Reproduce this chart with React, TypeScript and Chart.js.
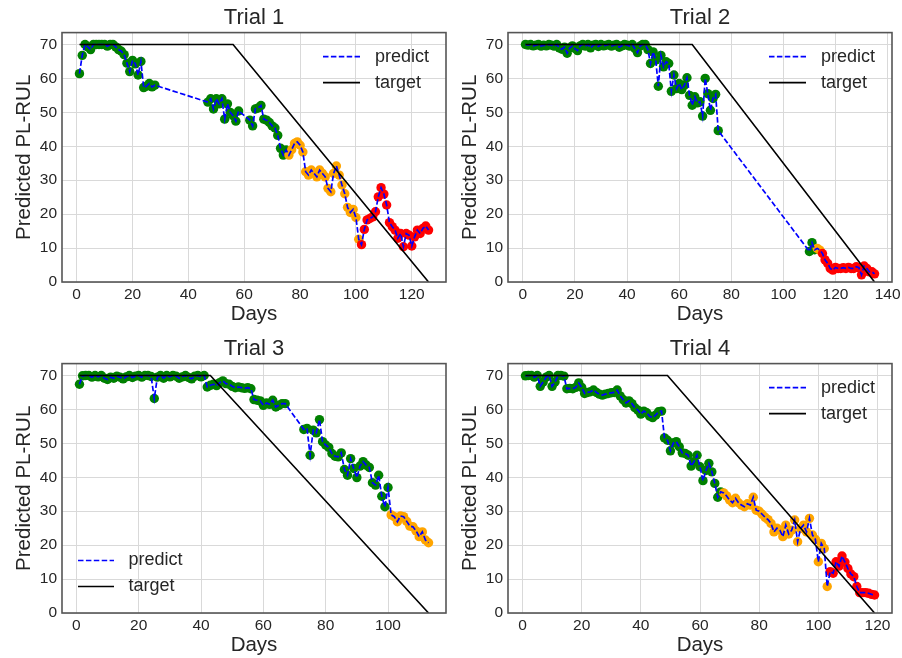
import React, { useEffect, useRef } from 'react';
import { Chart, registerables } from 'chart.js';

Chart.register(...registerables);

const FONT = '"Liberation Sans", Arial, Helvetica, sans-serif';
const TEXT = '#262626';
const GREEN = '#008000';
const ORANGE = '#FFA500';
const RED = '#FF0000';

// ---------- shared ticks ----------
const yTicks = [0, 10, 20, 30, 40, 50, 60, 70];
const xTicks120 = [0, 20, 40, 60, 80, 100, 120];
const xTicks140 = [0, 20, 40, 60, 80, 100, 120, 140];
const xTicks100 = [0, 20, 40, 60, 80, 100];
const legendLabels = ['predict', 'target'];

// ---------- Trial 1 ----------
const trial1Days = [
  1, 2, 3, 4, 5, 6, 7, 8, 9, 10, 11, 12, 13, 14, 15, 16, 17, 18, 19, 20, 21, 22, 23, 24, 25, 26, 27, 28,
  47, 48, 49, 50, 51, 52, 53, 54, 55, 56, 57, 58,
  62, 63, 64, 65, 66, 67, 68, 69, 70, 71, 72, 73, 74, 75, 76, 77, 78, 79, 80, 81, 82, 83, 84, 85, 86, 87, 88, 89, 90, 91,
  92, 93, 94, 95, 96, 97, 98, 99, 100, 101, 102, 103, 104, 105, 106, 107, 108, 109, 110, 111, 112, 113, 114, 115, 116,
  117, 118, 119, 120, 121, 122, 123, 124, 125, 126,
];
const trial1Pred = [
  61.4, 66.8, 70, 69.3, 68.5, 70, 70, 70, 70, 70, 69.5, 70, 70, 69.3, 68.5, 68, 67, 64.5, 62, 65.3, 64.3, 61, 65, 57.3, 57.7, 58.5, 57.5, 58,
  53, 54, 51, 54, 52.5, 54, 48, 52.5, 50, 49, 47.4, 50.4,
  47.7, 46, 51, 51.3, 52, 48, 47.7, 47, 46, 45.4,
  43.2, 39.4, 37.4, 38.9, 37.4, 39, 40.8, 41.3, 40.3, 38.3,
  32.5, 31.5, 33, 32, 31, 33, 32, 31, 27.6, 26.6,
  32, 34.2, 31.5, 28.6, 26, 22, 20.5, 21.4, 19, 12.6,
  11, 15.5, 18.3, 18.7, 19.2, 20.7, 25.1, 27.8, 25.9, 22.7, 17.5, 16.3, 15.3, 12.9, 14.3, 10.4, 14.3, 13.8, 10.6, 13.3,
  15.3, 14.3, 15.8, 16.5, 15.3,
];
const trial1TargetDays = [1, 56, 126];
const trial1TargetValues = [70, 70, 0];

// ---------- Trial 2 ----------
const trial2Days = [
  1, 2, 3, 4, 5, 6, 7, 8, 9, 10, 11, 12, 13, 14, 15, 16, 17, 18, 19, 20, 21, 22, 23, 24, 25, 26, 27, 28, 29, 30,
  31, 32, 33, 34, 35, 36, 37, 38, 39, 40, 41, 42, 43, 44, 45, 46, 47, 48, 49, 50, 51, 52, 53, 54, 55, 56, 57, 58, 59, 60,
  61, 62, 63, 64, 65, 66, 67, 68, 69, 70, 71, 72, 73, 74, 75,
  110, 111, 112, 113, 114, 115, 116, 117, 118, 119, 120, 121, 122, 123, 124, 125, 126, 127, 128, 129, 130, 131, 132, 133,
  134, 135,
];
const trial2Pred = [
  70, 69.8, 70, 69.6, 69.8, 70, 69.5, 69.8, 69.6, 70,
  69.8, 69.5, 70, 69, 68.6, 69.2, 67.4, 69, 69.6, 68.8,
  68.2, 69.6, 70, 69.5, 70, 69, 69.8, 70, 69.4, 70,
  69.6, 69.8, 70, 69.5, 69.8, 70, 69.2, 69.6, 70, 69.8,
  69.5, 70, 68.8, 67.6, 69.5, 70, 70,
  68.5, 64.4, 67.8, 65.4, 57.7, 66.8, 63.4, 64.9, 64.4, 56.2, 61, 57, 58.5, 56.7, 58, 60.2, 55, 52.1, 54.6, 52.8, 53.1,
  48.9, 60, 55.5, 50.6, 54.1, 55.3, 44.6,
  9, 11.6, 9.5, 9.9, 9.4, 8.4, 6.5, 5.5, 4.0, 3.5, 4.3, 4.0, 4.0, 4.2, 4.0, 4.3, 4.0, 4.0, 4.5, 4.2, 2.1, 4.7, 4.0, 3.0,
  3.0, 2.4,
];
const trial2TargetDays = [1, 65, 135];
const trial2TargetValues = [70, 70, 0];

// ---------- Trial 3 ----------
const trial3Days = [
  1, 2, 3, 4, 5, 6, 7, 8, 9, 10, 11, 12, 13, 14, 15, 16, 17, 18, 19, 20, 21, 22, 23, 24, 25, 26, 27, 28, 29, 30,
  31, 32, 33, 34, 35, 36, 37, 38, 39, 40, 41, 42, 43, 44, 45, 46, 47, 48, 49, 50, 51, 52, 53, 54, 55, 56, 57, 58, 59, 60,
  61, 62, 63, 64, 65, 66, 67,
  73, 74, 75, 76, 77, 78, 79, 80, 81, 82, 83, 84, 85, 86, 87, 88, 89, 90, 91, 92, 93, 94, 95, 96, 97, 98, 99, 100,
  101, 102, 103, 104, 105, 106, 107, 108, 109, 110, 111, 112, 113,
];
const trial3Pred = [
  67.4, 69.9, 70, 70, 69.5, 70, 69.6, 70, 69.2, 68.8,
  69.5, 69.2, 69.8, 69.5, 69, 69.6, 70, 69.4, 69.8, 70,
  69.5, 70, 70, 69.7, 63.2, 69.5, 70, 69.2, 70, 69.6,
  70, 69.8, 69.2, 69.6, 70, 69.4, 69, 69.8, 70, 69.6, 70,
  66.6, 67.1, 67.4, 67, 67.9, 68.4, 67.6, 67.4, 66.8, 66.4, 66.6, 66.4, 66.2, 66.4, 66.1, 62.9, 62.7, 62.5, 61.2, 61.9,
  61.5, 62.7, 60.7, 61.2, 61.7, 61.7,
  54.1, 54.4, 46.5, 53.9, 53.1, 57, 50.5, 49.5, 48.8, 47, 46.2, 46, 47.2, 42.3, 40.6, 45.5, 42.6, 39.9, 43.3, 44.6,
  43.6, 42.9, 38.4, 37.7, 40.6, 34.4, 31.3, 37,
  28.9, 28.4, 26.9, 28.6, 28.4, 27, 25.6, 25.4, 24.2, 22.5, 23.9, 21.5, 20.7,
];
const trial3TargetDays = [1, 43, 113];
const trial3TargetValues = [70, 70, 0];

// ---------- Trial 4 ----------
const trial4Days = [
  1, 2, 3, 4, 5, 6, 7, 8, 9, 10, 11, 12, 13, 14, 15, 16, 17, 18, 19, 20, 21, 22, 23, 24, 25, 26, 27, 28, 29, 30,
  31, 32, 33, 34, 35, 36, 37, 38, 39, 40, 41, 42, 43, 44, 45, 46, 47, 48, 49, 50, 51, 52, 53, 54, 55, 56, 57, 58, 59, 60,
  61, 62, 63, 64, 65, 66, 67, 68, 69, 70, 71, 72, 73, 74, 75, 76, 77, 78, 79, 80, 81, 82, 83, 84, 85, 86, 87, 88, 89, 90,
  91, 92, 93, 94, 95, 96, 97, 98, 99, 100, 101, 102, 103, 104, 105, 106, 107, 108, 109, 110, 111, 112, 113, 114, 115,
  116, 117, 118, 119,
];
const trial4Pred = [
  69.9, 70, 70, 69.5, 70, 66.8, 68.1, 69.5, 70, 66.8,
  68.1, 70, 70, 69.8, 66.1, 66.2, 66.1, 66.5, 67.8, 66.5,
  64.7, 65, 65.2, 65.7, 65, 64.5, 64.2, 64.5, 64.7, 64.9,
  65, 65.7, 64, 62.9, 61.9, 62.5, 61.7, 60.5, 59.8, 58.6,
  59.5, 59, 58, 57.6, 58.3, 59.3, 59.5, 51.6, 50.9, 47.8,
  50.1, 50.5, 49, 47.2, 47, 46.5, 43.3, 44.6, 46.5, 43.1,
  39, 42, 44.1, 41.6, 38.2, 34.1, 35.7, 35.4, 34.5, 33.3,
  32.5, 33.8, 32.5, 31.8, 31.3, 32.2, 31.8, 34.1, 30.3, 30,
  29.1, 28.2, 27.5, 26.4, 23.9, 25, 24.4, 22.5, 25.9, 23.3,
  24.4, 27.4, 21, 24.9, 25.9, 23.9, 27.9, 23, 21.7, 15.1,
  20.5, 19, 7.8, 12.2, 11.7, 15.1, 13.8, 16.8, 15, 13.1,
  11.5, 10.7, 7.8, 6, 6, 6, 5.8, 5.5, 5.3,
];
const trial4TargetDays = [1, 49, 119];
const trial4TargetValues = [70, 70, 0];

type Spec = {
  title: string;
  days: number[];
  pred: number[];
  targetDays: number[];
  targetValues: number[];
  orangeFrom: number;
  redFrom: number;
  xMin: number;
  xMax: number;
  xTicks: number[];
  legendPos: 'upper right' | 'lower left';
  left: number;
  top: number;
  w: number;
  h: number;
  padRight: number;
  padBottom: number;
};

const specs: Spec[] = [
  {
    title: 'Trial 1', days: trial1Days, pred: trial1Pred, targetDays: trial1TargetDays, targetValues: trial1TargetValues,
    orangeFrom: 76, redFrom: 102, xMin: -5.25, xMax: 132.25, xTicks: xTicks120, legendPos: 'upper right',
    left: 0, top: 0, w: 451, h: 329, padRight: 5, padBottom: 2,
  },
  {
    title: 'Trial 2', days: trial2Days, pred: trial2Pred, targetDays: trial2TargetDays, targetValues: trial2TargetValues,
    orangeFrom: 113, redFrom: 115, xMin: -5.7, xMax: 141.7, xTicks: xTicks140, legendPos: 'upper right',
    left: 446, top: 0, w: 456, h: 329, padRight: 10, padBottom: 2,
  },
  {
    title: 'Trial 3', days: trial3Days, pred: trial3Pred, targetDays: trial3TargetDays, targetValues: trial3TargetValues,
    orangeFrom: 101, redFrom: 9999, xMin: -4.6, xMax: 118.6, xTicks: xTicks100, legendPos: 'lower left',
    left: 0, top: 331, w: 451, h: 327, padRight: 5, padBottom: 0,
  },
  {
    title: 'Trial 4', days: trial4Days, pred: trial4Pred, targetDays: trial4TargetDays, targetValues: trial4TargetValues,
    orangeFrom: 68, redFrom: 104, xMin: -4.9, xMax: 124.9, xTicks: xTicks120, legendPos: 'upper right',
    left: 446, top: 331, w: 456, h: 327, padRight: 10, padBottom: 0,
  },
];

function makeFrameLegendPlugin(pos: 'upper right' | 'lower left') {
  return {
    id: 'frameLegend',
    afterDraw(chart: any) {
      const { ctx, chartArea: a } = chart;
      ctx.save();
      ctx.strokeStyle = '#555555';
      ctx.lineWidth = 1.6;
      ctx.setLineDash([]);
      ctx.strokeRect(a.left, a.top, a.right - a.left, a.bottom - a.top);

      const styles = [
        { color: '#0000FF', dash: [5.5, 2.4] },
        { color: '#000000', dash: [] as number[] },
      ];
      let x0: number, x1: number, tx: number, ys: number[];
      if (pos === 'upper right') {
        x0 = a.right - 123; x1 = a.right - 86; tx = a.right - 71; ys = [a.top + 24, a.top + 50];
      } else {
        x0 = a.left + 16; x1 = a.left + 52; tx = a.left + 66.5; ys = [a.bottom - 52.5, a.bottom - 26.5];
      }
      ctx.font = `18px ${FONT}`;
      ctx.textBaseline = 'middle';
      ctx.textAlign = 'left';
      legendLabels.forEach((label, i) => {
        ctx.beginPath();
        ctx.setLineDash(styles[i].dash);
        ctx.strokeStyle = styles[i].color;
        ctx.lineWidth = 1.7;
        ctx.moveTo(x0, ys[i]);
        ctx.lineTo(x1, ys[i]);
        ctx.stroke();
        ctx.setLineDash([]);
        ctx.fillStyle = TEXT;
        ctx.fillText(label, tx, ys[i]);
      });
      ctx.restore();
    },
  };
}

function TrialChart({ spec }: { spec: Spec }) {
  const ref = useRef<HTMLCanvasElement>(null);
  useEffect(() => {
    const canvas = ref.current;
    if (!canvas) return;
    const predPts = spec.days.map((d, i) => ({ x: d, y: spec.pred[i] }));
    const colors = spec.days.map((d) => (d >= spec.redFrom ? RED : d >= spec.orangeFrom ? ORANGE : GREEN));
    const targetPts = spec.targetDays.map((d, i) => ({ x: d, y: spec.targetValues[i] }));

    const chart = new Chart(canvas, {
      type: 'scatter',
      data: {
        datasets: [
          {
            label: 'target', data: targetPts, showLine: true, borderColor: '#000000', borderWidth: 1.6,
            pointRadius: 0, tension: 0,
          },
          {
            label: 'predict', data: predPts, showLine: true, borderColor: '#0000FF', borderWidth: 1.7,
            borderDash: [5.5, 2.4], pointRadius: 0, tension: 0,
          },
          {
            label: 'points', data: predPts, showLine: false, pointRadius: 4.7, pointBorderWidth: 0,
            pointBackgroundColor: colors, pointBorderColor: colors,
          },
        ],
      } as any,
      options: {
        responsive: false,
        animation: false,
        devicePixelRatio: 1,
        events: [],
        layout: { padding: { left: 0, right: spec.padRight, top: 0, bottom: spec.padBottom } },
        plugins: {
          legend: { display: false },
          tooltip: { enabled: false },
          title: {
            display: true, text: spec.title, fullSize: false, color: TEXT,
            font: { family: FONT, size: 22, weight: 'normal' }, padding: { top: 5, bottom: 1.2 },
          },
        },
        scales: {
          x: {
            type: 'linear', min: spec.xMin, max: spec.xMax,
            afterBuildTicks: (s: any) => { s.ticks = spec.xTicks.map((v) => ({ value: v })); },
            afterFit: (s: any) => { s.height = 45; s.paddingLeft = 0; s.paddingRight = 0; },
            grid: { color: '#d9d9d9', lineWidth: 1, drawTicks: false },
            border: { display: false },
            ticks: {
              padding: 3, color: TEXT, font: { family: FONT, size: 15.5 }, maxRotation: 0, autoSkip: false,
              callback: (v: any) => String(v),
            },
            title: {
              display: true, text: 'Days', color: TEXT, font: { family: FONT, size: 20.5 },
              padding: { top: 0, bottom: 0 },
            },
          },
          y: {
            type: 'linear', min: 0, max: 73.5,
            afterBuildTicks: (s: any) => { s.ticks = yTicks.map((v) => ({ value: v })); },
            afterFit: (s: any) => { s.width = 62; s.paddingTop = 0; s.paddingBottom = 0; },
            grid: { color: '#d9d9d9', lineWidth: 1, drawTicks: false },
            border: { display: false },
            ticks: {
              padding: 5, color: TEXT, font: { family: FONT, size: 15.5 }, autoSkip: false,
              callback: (v: any) => String(v),
            },
            title: {
              display: true, text: 'Predicted PL-RUL', color: TEXT, font: { family: FONT, size: 20.5 },
              padding: { top: 12.2, bottom: 0 },
            },
          },
        },
      } as any,
      plugins: [makeFrameLegendPlugin(spec.legendPos)],
    });
    return () => chart.destroy();
  }, [spec]);

  return (
    <canvas
      ref={ref}
      width={spec.w}
      height={spec.h}
      style={{ position: 'absolute', left: spec.left, top: spec.top, width: spec.w, height: spec.h }}
    />
  );
}

export default function App() {
  return (
    <div
      style={{
        position: 'absolute', left: 0, top: 0, width: 902, height: 658, overflow: 'hidden', background: '#ffffff',
      }}
    >
      {specs.map((s) => (
        <TrialChart key={s.title} spec={s} />
      ))}
    </div>
  );
}
